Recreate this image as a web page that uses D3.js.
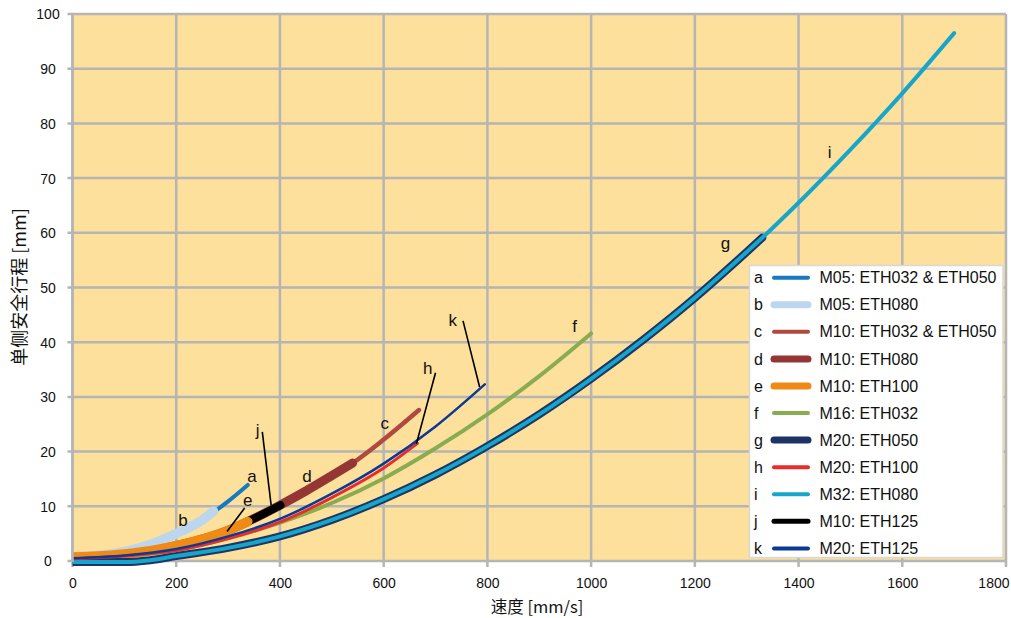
<!DOCTYPE html>
<html><head><meta charset="utf-8">
<script src="https://cdn.jsdelivr.net/npm/d3@7"></script>
<style>body{margin:0;background:#fff}svg{display:block}</style>
</head><body>
<svg id="chart" width="1011" height="618"></svg>
<script>
// ---- data ----
const keys  = ['a','b','c','d','e','f','g','h','i','j','k'];
const names = ['M05: ETH032 & ETH050','M05: ETH080','M10: ETH032 & ETH050','M10: ETH080','M10: ETH100',
               'M16: ETH032','M20: ETH050','M20: ETH100','M32: ETH080','M10: ETH125','M20: ETH125'];
const colors = ['#1878c0','#bcd6ee','#b04a40','#943634','#ef8a17','#88ac50','#1c3566','#e62e2a','#17a6c9','#000000','#0b3994'];

const aV = [0,50,100,150,200,250,300,338];
const aS = [0.8,1.0,1.6,2.9,4.9,7.5,10.9,13.9];
const bV = [0,50,100,150,200,250,272];
const bS = [0.8,1.0,1.7,3.0,5.0,7.5,9.1];
const cV = [0,50,100,150,200,250,300,340,400,450,500,540,600,668];
const cS = [0.75,0.9,1.3,1.9,2.8,4.0,5.6,7.3,10.2,12.8,15.6,17.9,22.2,27.6];
const dV = [0,50,100,150,200,250,300,340,400,450,500,540];
const dS = [0.75,0.9,1.3,1.9,2.8,4.0,5.6,7.3,10.2,12.8,15.6,17.9];
const eV = [0,50,100,150,200,250,300,338];
const eS = [0.75,0.9,1.3,1.9,2.8,4.0,5.6,7.2];
const fV = [0,100,200,311,400,500,600,700,800,900,1000];
const fS = [0.3,0.8,2.0,4.4,7.0,10.6,15.1,20.6,26.8,33.8,41.6];
const gV = [0,100,150,200,300,400,500,600,700,800,900,1000,1100,1200,1300,1330];
const gS = [-0.2,-0.2,0.15,0.9,2.4,4.5,7.5,11.3,15.8,21.0,26.8,33.3,40.4,48.1,56.5,59.1];
const hV = [0,100,200,300,400,500,600,665];
const hS = [0.4,0.9,1.9,4.1,7.1,11.6,17.0,21.5];
const iV = [0,100,150,200,300,400,500,600,700,800,900,1000,1100,1200,1300,1330,1400,1500,1600,1700];
const iS = [-0.2,-0.2,0.15,0.9,2.4,4.5,7.5,11.3,15.8,21.0,26.8,33.3,40.4,48.1,56.5,59.1,65.5,75.2,85.5,96.5];
const jV = [0,50,100,150,200,250,300,340,401];
const jS = [0.75,0.9,1.3,1.9,2.8,4.0,5.6,7.3,10.2];
const kV = [0,100,200,300,400,500,600,700,795];
const kS = [0.5,1.0,2.2,4.5,7.7,12.3,17.8,24.6,32.3];

const xTicks = [0,200,400,600,800,1000,1200,1400,1600,1800];
const yTicks = [0,10,20,30,40,50,60,70,80,90,100];

const labelText = ['a','b','c','d','e','f','g','h','i','j','k'];
const labelV = [346,213,602,452,338,968,1259,685,1460,357,733];
const labelS = [15.5,7.5,25.2,15.5,11.2,43.0,58.1,35.3,74.8,23.9,44.1];
const leaderKeys = ['e','j','h','k'];
const leaderV1 = [332,366,700,753], leaderS1 = [9.7,23.6,34.4,43.9];
const leaderV2 = [298,383,663,785], leaderS2 = [5.4,10.2,21.4,31.8];

const xTitle = '速度 [mm/s]';
const yTitle = '单侧安全行程 [mm]';

// ---- layout / style ----
const seriesV = {a:aV,b:bV,c:cV,d:dV,e:eV,f:fV,g:gV,h:hV,i:iV,j:jV,k:kV};
const seriesS = {a:aS,b:bS,c:cS,d:dS,e:eS,f:fS,g:gS,h:hS,i:iS,j:jS,k:kS};
const widths = {a:4,b:9.5,c:4.5,d:9,e:9.5,f:4,g:8,h:3,i:4,j:8,k:2.5};
const legendW = {a:4,b:7,c:4,d:7,e:7,f:4,g:7,h:4,i:4,j:5,k:4};
const drawOrder = ['c','d','j','a','b','f','e','g','i','h','k'];

const L = 72.5, R = 1006, T = 14, B = 561;
const svg = d3.select('#chart');
const x = d3.scaleLinear().domain([0,1800]).range([L,R]);
const y = d3.scaleLinear().domain([0,100]).range([B,T]);
const grid = '#b5b5b5';
const font = '"Liberation Sans", Arial, Helvetica, sans-serif';
const cjk = '"Noto Sans CJK SC", "Noto Sans", sans-serif';

svg.append('rect').attr('x',L).attr('y',T).attr('width',R-L).attr('height',B-T).attr('fill','#fce09b');

// grid
svg.append('g').selectAll('line').data(xTicks).join('line')
  .attr('x1',d=>x(d)).attr('x2',d=>x(d)).attr('y1',T).attr('y2',B+6)
  .attr('stroke',grid).attr('stroke-width',2.5);
svg.append('g').selectAll('line').data(yTicks).join('line')
  .attr('x1',L-5).attr('x2',R).attr('y1',d=>y(d)).attr('y2',d=>y(d))
  .attr('stroke',grid).attr('stroke-width',2.5);

// axes labels via d3 axes
const xAxis = svg.append('g').attr('transform',`translate(0,${B})`)
  .call(d3.axisBottom(x).tickValues(xTicks).tickSize(0).tickPadding(17).tickFormat(d3.format('d')));
xAxis.select('.domain').remove();
xAxis.selectAll('text').attr('font-family',font).attr('font-size',14).attr('fill','#111');
xAxis.selectAll('.tick').filter(d=>d===1800).select('text').attr('text-anchor','end').attr('x',3);
const yAxis = svg.append('g').attr('transform',`translate(${L},0)`)
  .call(d3.axisLeft(y).tickValues(yTicks).tickSize(0).tickPadding(0).tickFormat(d3.format('d')));
yAxis.select('.domain').remove();
yAxis.selectAll('text').attr('font-family',font).attr('font-size',14).attr('fill','#111')
  .attr('text-anchor','middle').attr('x',48-L).attr('dy','0.35em');

// clip so lines start flat at x=0
svg.append('clipPath').attr('id','clip').append('rect')
  .attr('x',L).attr('y',0).attr('width',R-L+20).attr('height',618);

const line = d3.line().x(d=>x(d[0])).y(d=>y(d[1])).curve(d3.curveMonotoneX);
const lg = svg.append('g').attr('clip-path','url(#clip)');
drawOrder.forEach(k=>{
  const pts = seriesV[k].map((v,i)=>[v,seriesS[k][i]]);
  lg.append('path').attr('d',line(pts)).attr('fill','none')
    .attr('stroke',colors[keys.indexOf(k)]).attr('stroke-width',widths[k])
    .attr('stroke-linecap','round').attr('stroke-linejoin','round');
});

// labels and leaders
svg.append('g').selectAll('line').data(leaderKeys).join('line')
  .attr('x1',(d,i)=>x(leaderV1[i])).attr('y1',(d,i)=>y(leaderS1[i]))
  .attr('x2',(d,i)=>x(leaderV2[i])).attr('y2',(d,i)=>y(leaderS2[i]))
  .attr('stroke','#000').attr('stroke-width',1.6);
svg.append('g').selectAll('text').data(labelText).join('text')
  .attr('x',(d,i)=>x(labelV[i])).attr('y',(d,i)=>y(labelS[i])).attr('dy','0.35em')
  .attr('text-anchor','middle').attr('font-family',font).attr('font-size',17).attr('fill','#111')
  .text(d=>d);

// legend
const lgX = 749.5, lgY = 265.5, lgW = 253.5, lgH = 292;
svg.append('rect').attr('x',lgX).attr('y',lgY).attr('width',lgW).attr('height',lgH)
  .attr('fill','#fff').attr('stroke','#d8d8d8').attr('stroke-width',1.5);
const rows = svg.append('g').selectAll('g').data(keys).join('g')
  .attr('transform',(d,i)=>`translate(0,${277.7 + i*27.07})`);
rows.append('text').attr('x',754).attr('dy','0.35em').attr('font-family',font).attr('font-size',16)
  .attr('fill','#111').text(d=>d);
rows.append('line').attr('x1',774).attr('x2',808).attr('y1',0).attr('y2',0)
  .attr('stroke',d=>colors[keys.indexOf(d)]).attr('stroke-width',d=>legendW[d]).attr('stroke-linecap','round');
rows.append('text').attr('x',819.5).attr('dy','0.35em').attr('font-family',font).attr('font-size',16)
  .attr('fill','#111').text((d,i)=>names[i]);

// left axis line
svg.append('line').attr('x1',L).attr('x2',L).attr('y1',T).attr('y2',B+1).attr('stroke',grid).attr('stroke-width',2.5);

// titles
svg.append('text').attr('x',537).attr('y',607).attr('dy','0.35em').attr('text-anchor','middle')
  .attr('font-family',cjk).attr('font-size',16.5).attr('fill','#111').text(xTitle);
svg.append('text').attr('transform','translate(20,287) rotate(-90)').attr('dy','0.35em').attr('text-anchor','middle')
  .attr('font-family',cjk).attr('font-size',18).attr('fill','#111').text(yTitle);
</script>
</body></html>
